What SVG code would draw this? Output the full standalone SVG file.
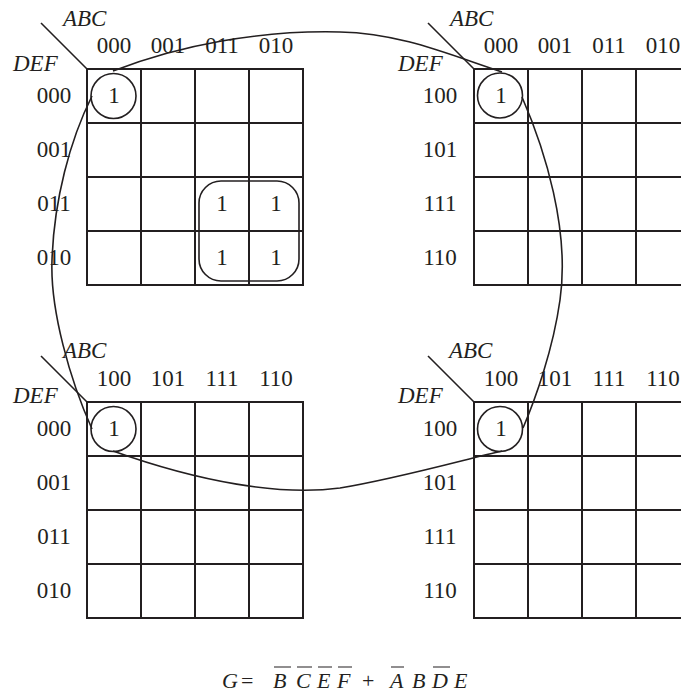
<svg xmlns="http://www.w3.org/2000/svg" width="681" height="694" viewBox="0 0 681 694">
<style>
.g{fill:none;stroke:#231f20;stroke-width:2}
.d{fill:none;stroke:#231f20;stroke-width:1.6}
.c{fill:none;stroke:#231f20;stroke-width:1.6}
.l{fill:none;stroke:#231f20;stroke-width:1.6}
.t{font-family:"Liberation Serif","Times New Roman",serif;font-size:23px;fill:#231f20}
.m{text-anchor:middle}
.i{font-style:italic}
.e{font-family:"Liberation Serif","Times New Roman",serif;font-size:22px;fill:#231f20}
.o{stroke:#231f20;stroke-width:1.2}
</style>
<rect width="681" height="694" fill="#fff"/>
<g id="map-tl">
<path class="g" d="M87,69H303V285H87Z M141,69V285 M195,69V285 M249,69V285 M87,123H303 M87,177H303 M87,231H303"/>
<path class="d" d="M41,23L87,69"/>
<text class="t i" x="63" y="26">ABC</text>
<text class="t i" x="13" y="71">DEF</text>
<text class="t m" x="114" y="53">000</text>
<text class="t m" x="168" y="53">001</text>
<text class="t m" x="222" y="53">011</text>
<text class="t m" x="276" y="53">010</text>
<text class="t m" x="54" y="103">000</text>
<text class="t m" x="54" y="157">001</text>
<text class="t m" x="54" y="211">011</text>
<text class="t m" x="54" y="265">010</text>
<circle class="c" cx="113.5" cy="96" r="22.5"/>
<text class="t m" x="114" y="103">1</text>
<rect class="c" x="199" y="181" width="100" height="100" rx="22"/>
<text class="t m" x="222" y="211">1</text>
<text class="t m" x="276" y="211">1</text>
<text class="t m" x="222" y="265">1</text>
<text class="t m" x="276" y="265">1</text>
</g>
<g id="map-tr">
<path class="g" d="M474,69H690V285H474Z M528,69V285 M582,69V285 M636,69V285 M474,123H690 M474,177H690 M474,231H690"/>
<path class="d" d="M428,23L474,69"/>
<text class="t i" x="450" y="26">ABC</text>
<text class="t i" x="398" y="71">DEF</text>
<text class="t m" x="501" y="53">000</text>
<text class="t m" x="555" y="53">001</text>
<text class="t m" x="609" y="53">011</text>
<text class="t m" x="663" y="53">010</text>
<text class="t m" x="440" y="103">100</text>
<text class="t m" x="440" y="157">101</text>
<text class="t m" x="440" y="211">111</text>
<text class="t m" x="440" y="265">110</text>
<circle class="c" cx="500" cy="95.5" r="22.5"/>
<text class="t m" x="501" y="103">1</text>
</g>
<g id="map-bl">
<path class="g" d="M87,402H303V618H87Z M141,402V618 M195,402V618 M249,402V618 M87,456H303 M87,510H303 M87,564H303"/>
<path class="d" d="M41,356L87,402"/>
<text class="t i" x="63" y="358">ABC</text>
<text class="t i" x="13" y="403">DEF</text>
<text class="t m" x="114" y="386">100</text>
<text class="t m" x="168" y="386">101</text>
<text class="t m" x="222" y="386">111</text>
<text class="t m" x="276" y="386">110</text>
<text class="t m" x="54" y="436">000</text>
<text class="t m" x="54" y="490">001</text>
<text class="t m" x="54" y="544">011</text>
<text class="t m" x="54" y="598">010</text>
<circle class="c" cx="113.5" cy="429" r="22.5"/>
<text class="t m" x="114" y="436">1</text>
</g>
<g id="map-br">
<path class="g" d="M474,402H690V618H474Z M528,402V618 M582,402V618 M636,402V618 M474,456H690 M474,510H690 M474,564H690"/>
<path class="d" d="M428,356L474,402"/>
<text class="t i" x="449" y="358">ABC</text>
<text class="t i" x="398" y="403">DEF</text>
<text class="t m" x="501" y="386">100</text>
<text class="t m" x="555" y="386">101</text>
<text class="t m" x="609" y="386">111</text>
<text class="t m" x="663" y="386">110</text>
<text class="t m" x="440" y="436">100</text>
<text class="t m" x="440" y="490">101</text>
<text class="t m" x="440" y="544">111</text>
<text class="t m" x="440" y="598">110</text>
<circle class="c" cx="500" cy="429" r="22.5"/>
<text class="t m" x="501" y="436">1</text>
</g>
<g id="connectors">
<path class="l" d="M113,71C180,45 260,30 340,32C400,33 450,55 502,72"/>
<path class="l" d="M522,97C545,150 570,230 560,300C553,350 535,400 523,428"/>
<path class="l" d="M502,451C470,458 400,478 340,488C280,496 200,482 113,451"/>
<path class="l" d="M92,429C70,380 50,310 52,260C54,200 70,140 92,96"/>
</g>
<g id="equation">
<text class="e i" x="222" y="688">G</text>
<text class="e" x="241" y="688">=</text>
<text class="e i" x="273" y="688">B</text>
<text class="e i" x="296" y="688">C</text>
<text class="e i" x="317" y="688">E</text>
<text class="e i" x="337" y="688">F</text>
<text class="e" x="362" y="688">+</text>
<text class="e i" x="390" y="688">A</text>
<text class="e i" x="412" y="688">B</text>
<text class="e i" x="432" y="688">D</text>
<text class="e i" x="454" y="688">E</text>
<path class="o" d="M274,667H291M297,667H312M318,667H332M338,667H352M391,667H404M433,667H450"/>
</g>
</svg>
